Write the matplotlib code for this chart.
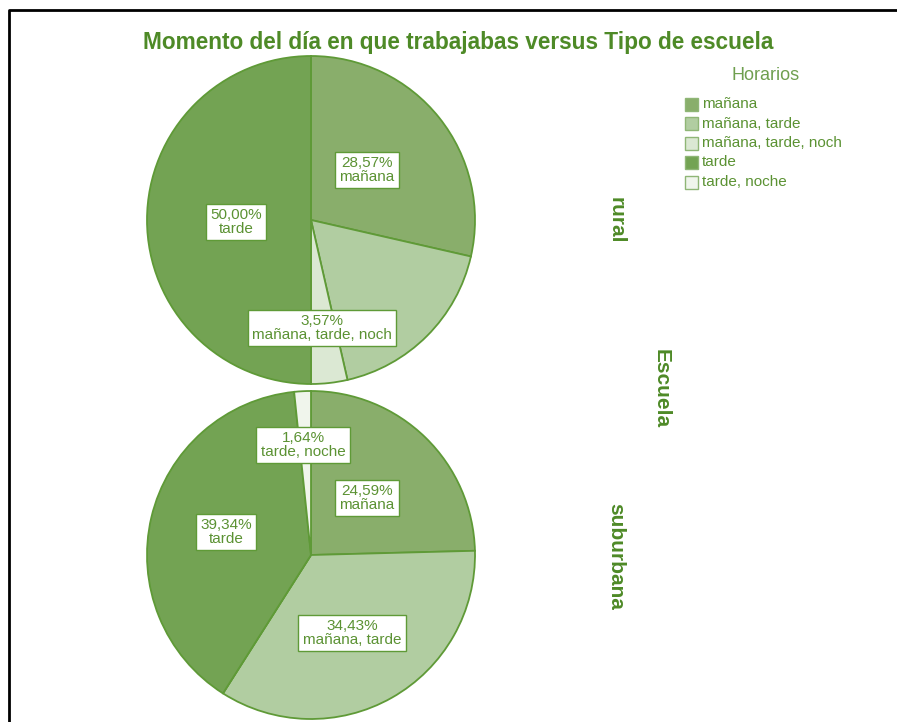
import matplotlib
matplotlib.use('Agg')
import matplotlib.pyplot as plt
from matplotlib.patches import Rectangle

plt.rcParams['font.family'] = ['Liberation Sans', 'DejaVu Sans']

# ---- data ----
HORARIOS = ['mañana', 'mañana, tarde', 'mañana, tarde, noch', 'tarde', 'tarde, noche']
COLORS = ['#89ae6b', '#b1cda1', '#dbe8d3', '#73a353', '#f0f5ec']

RURAL = [28.57, 17.86, 3.57, 50.00, 0.0]
SUBURBANA = [24.59, 34.43, 0.0, 39.34, 1.64]

ESCUELAS = ['rural', 'suburbana']

# which slices carry a label, and where the label box sits (pixel coords)
RURAL_LABELS = {0: (367, 170), 2: (322, 328), 3: (236, 222)}
SUB_LABELS = {4: (303, 445), 0: (367, 498), 3: (226, 532), 1: (352, 633)}

EDGE = '#5f9a37'
TEXT = '#5b9233'
TITLE = '#4e8a27'

W, H = 897, 722
fig = plt.figure(figsize=(W / 100, H / 100), dpi=100)
ax = fig.add_axes([0, 0, 1, 1])

def y(py):
    return H - py

panels = [(RURAL, RURAL_LABELS, 220), (SUBURBANA, SUB_LABELS, 555)]
for vals, labs, cy in panels:
    ax.pie(vals, colors=COLORS, startangle=90, counterclock=False,
           center=(311, y(cy)), radius=164, frame=True,
           wedgeprops=dict(edgecolor=EDGE, linewidth=1.3))
    for i, (lx, ly) in labs.items():
        ax.text(lx, y(ly), f'{vals[i]:.2f}%'.replace('.', ',') + '\n' + HORARIOS[i],
                ha='center', va='center', fontsize=11, color=TEXT, linespacing=0.95,
                bbox=dict(boxstyle='square,pad=0.28', fc='white', ec=EDGE, lw=1.0))

ax.set_xlim(0, W)
ax.set_ylim(0, H)
ax.set_aspect('equal')
ax.axis('off')

# title
ax.text(458, y(42), 'Momento del día en que trabajabas versus Tipo de escuela',
        ha='center', va='center', fontsize=16.3, fontweight='bold', color=TITLE)

# facet labels
for name, cy in zip(ESCUELAS, [220, 556]):
    ax.text(616, y(cy), name, rotation=-90, ha='center', va='center',
            fontsize=15, fontweight='bold', color=TITLE)
ax.text(661, y(389), 'Escuela', rotation=-90, ha='center', va='center',
        fontsize=15, fontweight='bold', color=TITLE)

# legend
ax.text(766, y(75), 'Horarios', ha='center', va='center', fontsize=13, color='#6f9f4f')
for k, (lab, col) in enumerate(zip(HORARIOS, COLORS)):
    py = 104 + k * 19.5
    ax.add_patch(Rectangle((685, y(py) - 6.5), 13, 13, fc=col, ec='#8fb676', lw=1.0))
    ax.text(702, y(py), lab, ha='left', va='center', fontsize=11, color=TEXT)

# outer frame
ax.plot([9, 9, W + 5], [0, y(10), y(10)], color='black', lw=2, solid_capstyle='butt')

fig.savefig('out.png', dpi=100)
